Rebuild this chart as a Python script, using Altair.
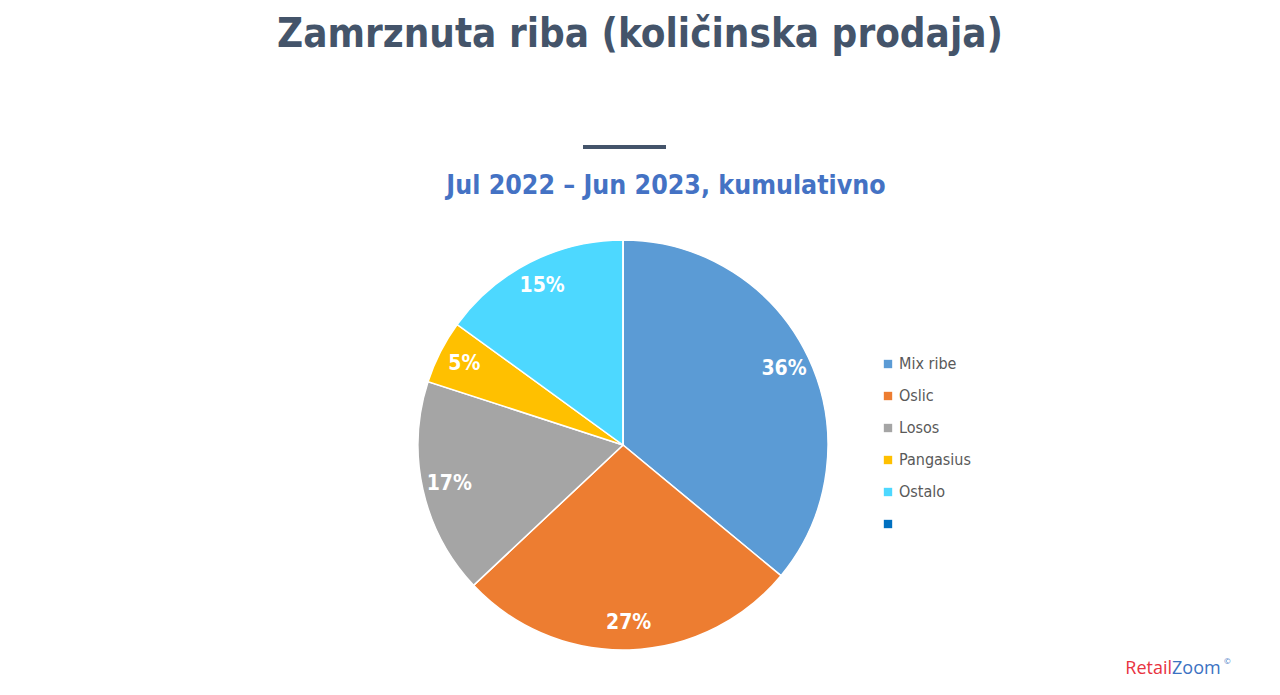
import altair as alt
import pandas as pd

categories = ["Mix ribe", "Oslic", "Losos", "Pangasius", "Ostalo", " "]
shares = [36, 27, 17, 5, 15, 0]
colors = ["#5B9BD5", "#ED7D31", "#A5A5A5", "#FFC000", "#4DD8FF", "#0070C0"]

title_text = "Zamrznuta riba (količinska prodaja)"
subtitle_text = "Jul 2022 – Jun 2023, kumulativno"

FONT = "DejaVu Sans Condensed, Liberation Sans Narrow, Roboto, sans-serif"

df = pd.DataFrame({"cat": categories, "value": shares, "idx": list(range(len(categories)))})

CX, CY, R = 615, 437, 205

base = alt.Chart(df)

pie = base.mark_arc(outerRadius=R, stroke="white", strokeWidth=1.5).encode(
    x=alt.value(CX), y=alt.value(CY),
    theta=alt.Theta("value:Q", stack=True, scale=alt.Scale(range=[0, 6.283185307])),
    order=alt.Order("idx:Q"),
    color=alt.Color("cat:N", sort=categories,
                    scale=alt.Scale(domain=categories, range=colors),
                    legend=alt.Legend(orient="none", legendX=872, legendY=348, title=None,
                                      symbolType="square", symbolSize=70, symbolStrokeWidth=0,
                                      labelFont=FONT, labelFontSize=16, labelColor="#595959",
                                      rowPadding=16, labelOffset=3)),
)

labels = base.transform_filter("datum.value > 0").transform_calculate(
    lab="datum.value + '%'"
).mark_text(radius=178, font=FONT, fontSize=21, fontWeight="bold", color="white").encode(
    x=alt.value(CX), y=alt.value(CY),
    theta=alt.Theta("value:Q", stack=True),
    order=alt.Order("idx:Q"),
    text="lab:N",
)

title = alt.Chart(pd.DataFrame({"t": [title_text]})).mark_text(
    font=FONT, fontSize=40, fontWeight="bold", color="#44546A", baseline="middle"
).encode(x=alt.value(632), y=alt.value(27), text="t:N")

subtitle = alt.Chart(pd.DataFrame({"t": [subtitle_text]})).mark_text(
    font=FONT, fontSize=26.5, fontWeight="bold", color="#4472C4", baseline="middle"
).encode(x=alt.value(658), y=alt.value(178), text="t:N")

dash = alt.Chart(pd.DataFrame({"a": [0]})).mark_rule(color="#44546A", strokeWidth=4).encode(
    x=alt.value(575), x2=alt.value(658), y=alt.value(139)
)

logo1 = alt.Chart(pd.DataFrame({"t": ["Retail"]})).mark_text(
    font="Open Sans", fontSize=18, color="#E8333F", align="right", baseline="middle"
).encode(x=alt.value(1164), y=alt.value(661), text="t:N")
logo2 = alt.Chart(pd.DataFrame({"t": ["Zoom"]})).mark_text(
    font="Open Sans", fontSize=18, color="#3A72C2", align="left", baseline="middle"
).encode(x=alt.value(1164), y=alt.value(661), text="t:N")
logo3 = alt.Chart(pd.DataFrame({"t": ["©"]})).mark_text(
    font="Open Sans", fontSize=8, color="#3A72C2", align="left", baseline="middle"
).encode(x=alt.value(1216), y=alt.value(654), text="t:N")

chart = alt.layer(pie, labels, title, subtitle, dash, logo1, logo2, logo3).properties(
    width=1264, height=679, padding=0, autosize=alt.AutoSizeParams(type="none")
).configure_view(stroke=None)

chart.save("out.html", embed_options={"renderer": "svg", "actions": False})
